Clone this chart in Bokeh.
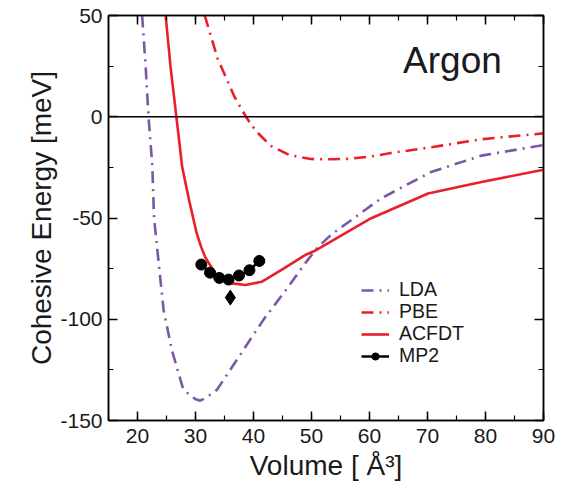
from bokeh.plotting import figure
from bokeh.models import (Range1d, LinearAxis, SingleIntervalTicker, Span, Label,
                          Legend, LegendItem, CustomJSTickFormatter)
from bokeh.embed import file_html
from bokeh.resources import INLINE

# ---- data ----
lda_v = [20.8, 21.4, 21.9, 22.55, 22.85, 24.5, 25.9, 27.9, 29.95, 30.8, 31.7, 33.7,
         37.7, 41.7, 46.0, 48.9, 51.0, 53.4, 62.0, 70.6, 79.3, 90.0]
lda_e = [50, 25, 0, -24, -50, -95.4, -115, -134.8, -139.4, -140.2, -139, -134.8,
         -117.6, -100.3, -84, -72.4, -64.7, -58.2, -40.3, -27.3, -19.2, -14.0]

pbe_v = [31.6, 33.8, 36.7, 38.7, 40.4, 43.0, 46.2, 49.9, 53.4, 56.2, 60.3, 63.7,
         70.6, 79.3, 90.0]
pbe_e = [50, 28.8, 10, 0, -7, -14.4, -18.9, -20.9, -21, -20.8, -19.6, -17.9,
         -15.1, -11.1, -8.2]

acfdt_v = [24.85, 25.7, 26.7, 27.7, 28.9, 30.2, 31.0, 31.7, 33.4, 36.3, 38.6, 41.4, 44.9,
           48.9, 50.5, 60.3, 70.1, 79.3, 90.0]
acfdt_e = [50, 24.6, 0, -24.7, -41.3, -57.5, -64.5, -69.5, -77.3, -82.3, -83.1, -81.5, -75.5,
           -68.3, -66.3, -50.1, -37.9, -32.2, -26.2]

mp2_v = [31.0, 32.5, 34.1, 35.7, 37.5, 39.3, 41.0]
mp2_e = [-73.0, -77.0, -79.6, -80.4, -78.4, -75.8, -71.2]

exp_v = [36.0]
exp_e = [-89.3]

legend_labels = ["LDA", "PBE", "ACFDT", "MP2"]

PURPLE = "#7a58a6"
RED = "#e8202a"
FONT = "Liberation Sans"
TXT = "#1a1a1a"

p = figure(frame_width=435, frame_height=405, output_backend="svg", toolbar_location=None,
           x_range=Range1d(15, 90), y_range=Range1d(-150, 50),
           min_border_left=108, min_border_right=26, min_border_top=15,
           min_border_bottom=58)
p.grid.visible = False
p.outline_line_color = "black"
p.outline_line_width = 1.5
p.background_fill_color = "white"
p.border_fill_color = "white"

plain = CustomJSTickFormatter(code="return tick.toString()")
p.xaxis.ticker = SingleIntervalTicker(interval=10, num_minor_ticks=2)
p.yaxis.ticker = SingleIntervalTicker(interval=50, num_minor_ticks=2)
p.xaxis.formatter = plain
p.yaxis.formatter = plain

for ax in (p.xaxis[0], p.yaxis[0]):
    ax.major_tick_in = 9
    ax.major_tick_out = 0
    ax.minor_tick_in = 5
    ax.minor_tick_out = 0
    ax.axis_line_width = 1.5
    ax.major_tick_line_width = 1.5
    ax.minor_tick_line_width = 1.2
    ax.major_label_text_font = FONT
    ax.major_label_text_font_size = "21px"
    ax.major_label_text_color = TXT
    ax.axis_label_text_font = FONT
    ax.axis_label_text_font_size = "28px"
    ax.axis_label_text_font_style = "normal"
    ax.axis_label_text_color = TXT

p.xaxis.axis_label = "Volume [ Å³]"
p.yaxis.axis_label = "Cohesive Energy [meV]"
p.xaxis.major_label_standoff = 8
p.xaxis.axis_label_standoff = 4
p.yaxis.major_label_standoff = 6
p.yaxis.axis_label_standoff = 0

blank = CustomJSTickFormatter(code="return ''")
top = LinearAxis(ticker=SingleIntervalTicker(interval=10, num_minor_ticks=2), formatter=blank)
right = LinearAxis(ticker=SingleIntervalTicker(interval=50, num_minor_ticks=2), formatter=blank)
for ax in (top, right):
    ax.major_tick_in = 9
    ax.major_tick_out = 0
    ax.minor_tick_in = 5
    ax.minor_tick_out = 0
    ax.axis_line_width = 1.5
    ax.major_tick_line_width = 1.5
    ax.minor_tick_line_width = 1.2
    ax.major_label_standoff = 0
    ax.major_label_text_font_size = "1px"
p.add_layout(top, "above")
p.add_layout(right, "right")

p.add_layout(Span(location=0, dimension="width", line_color="black", line_width=1.5))

r_lda = p.line(lda_v, lda_e, line_color=PURPLE, line_width=2.6, line_dash="12 6 2 6")
r_pbe = p.line(pbe_v, pbe_e, line_color=RED, line_width=2.6, line_dash="12 6 2 6")
r_acf = p.line(acfdt_v, acfdt_e, line_color=RED, line_width=2.6)
r_mp2l = p.line(mp2_v, mp2_e, line_color="black", line_width=2.5)
r_mp2s = p.scatter(mp2_v, mp2_e, size=11, marker="circle", fill_color="black", line_color="black")
p.scatter(exp_v, exp_e, size=15, marker="diamond", fill_color="black", line_color="black")

p.add_layout(Label(x=74.3, y=28.0, text="Argon", text_font=FONT, text_font_size="37px",
                   text_align="center", text_baseline="alphabetic", text_color=TXT))

# one single-entry legend per row so the row pitch matches the reference
legend_renderers = [[r_lda], [r_pbe], [r_acf], [r_mp2l, r_mp2s]]
legend_y = [119, 97, 75, 53]
for lab, rends, ly in zip(legend_labels, legend_renderers, legend_y):
    lg = Legend(items=[LegendItem(label=lab, renderers=rends)], location=(253, ly))
    lg.label_text_font = FONT
    lg.label_text_font_size = "19.5px"
    lg.label_text_color = TXT
    lg.label_standoff = 10
    lg.glyph_width = 28
    lg.glyph_height = 18
    lg.label_height = 18
    lg.spacing = 0
    lg.padding = 0
    lg.margin = 0
    lg.border_line_color = None
    lg.background_fill_alpha = 0
    p.add_layout(lg)

open("out.html", "w").write(file_html(p, INLINE))
